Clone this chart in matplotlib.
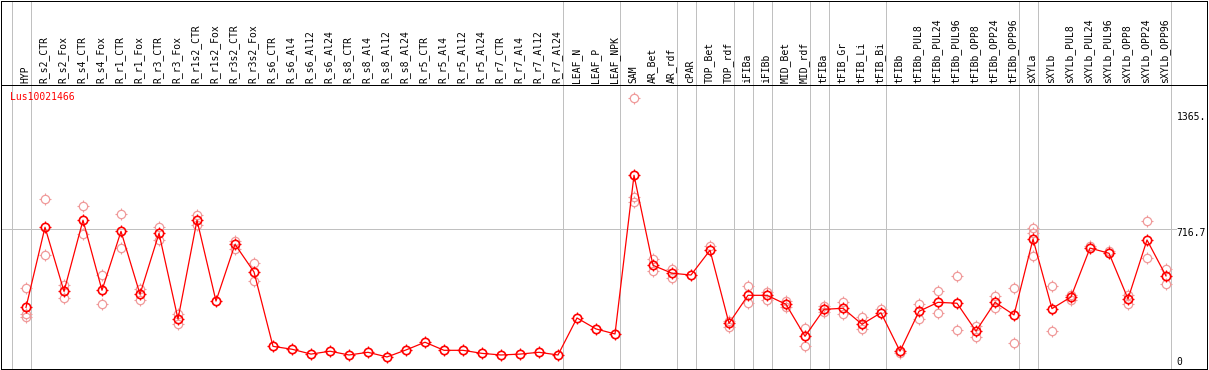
import numpy as np
import matplotlib
matplotlib.use("Agg")
import matplotlib.pyplot as plt
from matplotlib.path import Path

nan = np.nan

categories = [
    "HYP", "R_s2_CTR", "R_s2_Fox", "R_s4_CTR", "R_s4_Fox", "R_r1_CTR", "R_r1_Fox",
    "R_r3_CTR", "R_r3_Fox", "R_r1s2_CTR", "R_r1s2_Fox", "R_r3s2_CTR", "R_r3s2_Fox",
    "R_s6_CTR", "R_s6_Al4", "R_s6_Al12", "R_s6_Al24", "R_s8_CTR", "R_s8_Al4",
    "R_s8_Al12", "R_s8_Al24", "R_r5_CTR", "R_r5_Al4", "R_r5_Al12", "R_r5_Al24",
    "R_r7_CTR", "R_r7_Al4", "R_r7_Al12", "R_r7_Al24", "LEAF_N", "LEAF_P", "LEAF_NPK",
    "SAM", "AR_Bet", "AR_rdf", "cPAR", "TOP_Bet", "TOP_rdf", "iFIBa", "iFIBb",
    "MID_Bet", "MID_rdf", "tFIBa", "tFIB_Gr", "tFIB_Li", "tFIB_Bi", "tFIBb",
    "tFIBb_PUL8", "tFIBb_PUL24", "tFIBb_PUL96", "tFIBb_OPP8", "tFIBb_OPP24",
    "tFIBb_OPP96", "sXYLa", "sXYLb", "sXYLb_PUL8", "sXYLb_PUL24", "sXYLb_PUL96",
    "sXYLb_OPP8", "sXYLb_OPP24", "sXYLb_OPP96",
]

# number of categories in each separated group
group_sizes = [1, 28, 3, 3, 1, 2, 1, 1, 2, 1, 3, 7, 1, 7]

mean_expr = [279, 725, 368, 764, 374, 702, 352, 691, 214, 764, 314, 630, 476,
             62, 46, 19, 35, 14, 29, 3, 42, 85, 40, 40, 23, 14, 19, 29, 14,
             220, 159, 131,
             1014, 513, 469, 459, 597, 190, 346, 346, 296, 118, 268, 274, 185, 249,
             35, 257, 307, 302, 147, 307, 237, 659, 272, 337, 609, 580, 326, 654, 454]

rep_a = [385, 880, 403, 843, 457, 797, 380, 725, 242, 791, nan, 650, 524,
         nan, nan, nan, nan, nan, nan, nan, nan, nan, nan, nan, nan, nan, nan, nan, nan,
         nan, nan, nan,
         1442, 548, 494, nan, 619, 204, 398, 365, 316, 162, 288, 309, 224, 272,
         nan, 296, 368, 454, 177, 342, 385, 721, 396, 348, 622, 594, 348, 760, 492]

rep_b = [242, 569, 333, 686, 296, 608, 322, 654, 185, 737, nan, 604, 426,
         nan, nan, nan, nan, nan, nan, nan, nan, nan, nan, nan, nan, nan, nan, nan, nan,
         nan, nan, nan,
         892, 481, 444, nan, nan, 168, 303, 322, 283, 66, 255, 240, 157, nan,
         25, 213, 248, 151, 116, 275, 81, 691, 146, 322, nan, nan, 296, 554, 407]

rep_c = [227] + [nan] * 31 + [864] + [nan] * 20 + [565] + [nan] * 7

gene_id = "Lus10021466"
ytick_values = [0, 716.7, 1365]
ytick_labels = ["0", "716.7", "1365."]
grid_value = 716.7

# ---------------- layout ----------------
W, H, DPI = 1209, 370, 100
fig = plt.figure(figsize=(W / DPI, H / DPI), dpi=DPI)
fig.patch.set_facecolor("white")

px = 1.0 / W
py = 1.0 / H
left_px, right_px = 1, 1207
top_px, mid_px, bot_px = 0, 85, 369

x0_px, dx_px = 26, 19          # pixel position of first category and spacing
xlim = ((left_px - x0_px) / dx_px, (right_px - x0_px) / dx_px)
y0_px, scale = 357.5, 0.1797   # pixel of value 0, pixels per unit
ylim = ((y0_px - bot_px) / scale, (y0_px - mid_px) / scale)

ax = fig.add_axes([left_px * px, (H - bot_px) * py,
                   (right_px - left_px) * px, (bot_px - mid_px) * py])
hax = fig.add_axes([left_px * px, (H - mid_px) * py,
                    (right_px - left_px) * px, (mid_px - top_px - 0.5) * py])

lw = 0.72
for a in (ax, hax):
    a.set_xlim(*xlim)
    a.set_xticks([])
    a.set_yticks([])
    for s in a.spines.values():
        s.set_linewidth(lw)
        s.set_color("black")
ax.set_ylim(*ylim)
hax.set_ylim(0, 1)

grey = "#c0c0c0"
# group separators
bounds = [-1] + list(np.cumsum(group_sizes) - 1)
for b in bounds:
    for a in (ax, hax):
        a.axvline(b + 0.24, color=grey, lw=lw, zorder=1)

ax.axhline(grid_value, xmin=0, xmax=(1176 - left_px) / (right_px - left_px),
           color=grey, lw=lw, zorder=1)

x = np.arange(len(categories))

# header labels
for i, name in enumerate(categories):
    hax.text(i - 0.05, 2 / (mid_px - top_px), name, rotation=90, ha="center",
             va="bottom", fontsize=7, family="DejaVu Sans Mono", color="black")

# short tick marks outside the circle markers
tick_path = Path([(0, 0.72), (0, 1), (0, -0.72), (0, -1),
                  (0.72, 0), (1, 0), (-0.72, 0), (-1, 0)],
                 [Path.MOVETO, Path.LINETO] * 4)

pink = "#f09a9a"
for reps in (rep_a, rep_b, rep_c):
    r = np.array(reps, dtype=float)
    ax.plot(x, r, ls="none", marker="o", ms=6.0, mfc="none", mec=pink,
            mew=0.9, zorder=2)
    ax.plot(x, r, ls="none", marker=tick_path, ms=8.5, mec=pink, mew=0.8, zorder=2)

ax.plot(x, mean_expr, color="red", lw=0.9, zorder=3)
ax.plot(x, mean_expr, ls="none", marker="o", ms=6.0, mfc="none", mec="red",
        mew=1.2, zorder=4)
ax.plot(x, mean_expr, ls="none", marker=tick_path, ms=8.5, mec="red", mew=0.9,
        zorder=4)

# gene id
ax.annotate(gene_id, xy=(10 * px, (H - 97.5) * py), xycoords="figure fraction",
            ha="left", va="center", fontsize=7, family="DejaVu Sans Mono",
            color="red")

# y labels at right
for v, lab in zip(ytick_values, ytick_labels):
    ax.annotate(lab, xy=((1177 - 0.5) * px, v), xycoords=("figure fraction", "data"),
                xytext=(0, -4.4 * 0.72), textcoords="offset points",
                ha="left", va="center", fontsize=7, family="DejaVu Sans Mono",
                color="black")

fig.savefig("out.png", dpi=DPI, facecolor="white")
